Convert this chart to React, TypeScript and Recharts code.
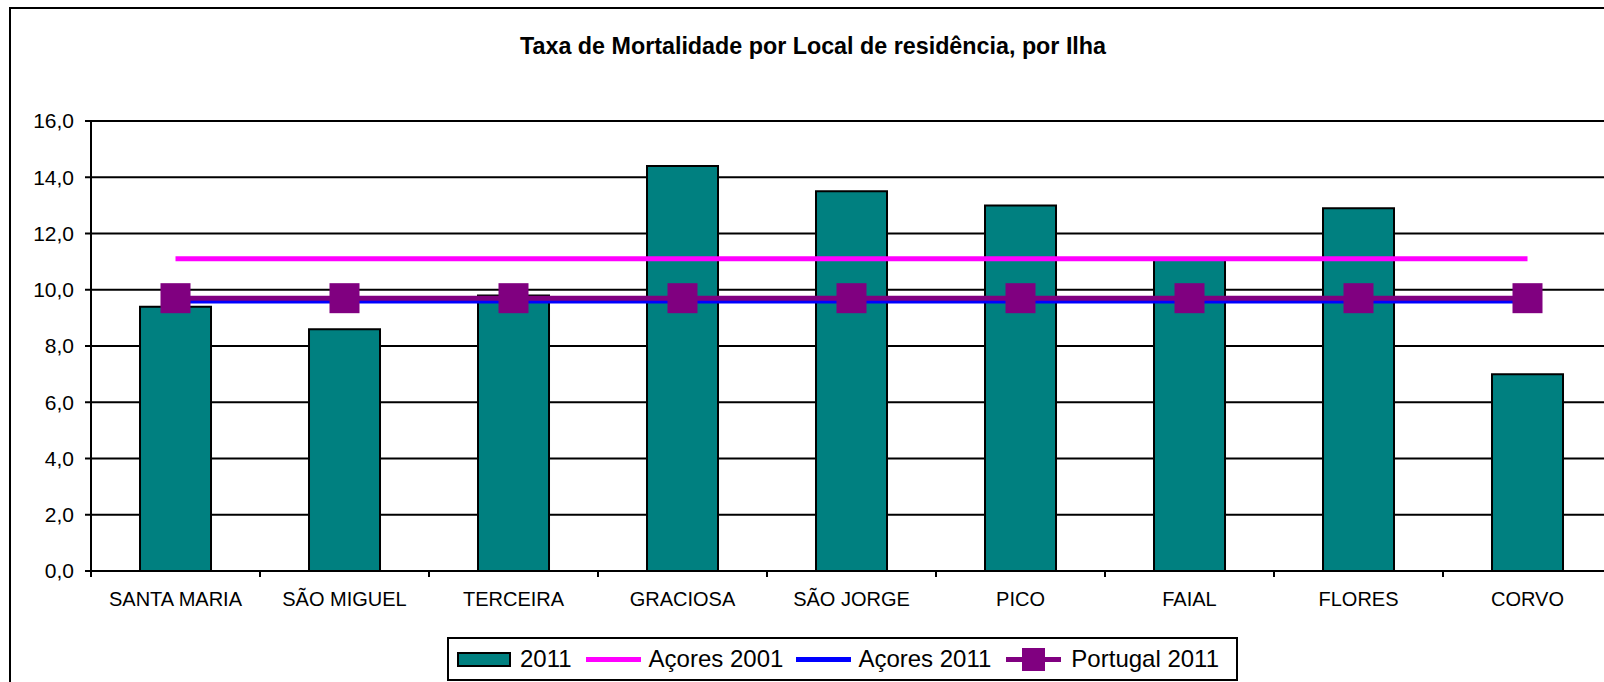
import React from "react";
import {
  ComposedChart,
  Bar,
  Line,
  XAxis,
  YAxis,
  CartesianGrid,
  Legend,
} from "recharts";

const FONT = "'Liberation Sans', Arial, sans-serif";

// islands on the x axis
const islands = [
  "SANTA MARIA",
  "SÃO MIGUEL",
  "TERCEIRA",
  "GRACIOSA",
  "SÃO JORGE",
  "PICO",
  "FAIAL",
  "FLORES",
  "CORVO",
];

// death rate per island, 2011
const rate2011 = [9.4, 8.6, 9.8, 14.4, 13.5, 13.0, 11.1, 12.9, 7.0];

// reference rates (same value on every island)
const acores2001 = [11.1, 11.1, 11.1, 11.1, 11.1, 11.1, 11.1, 11.1, 11.1];
const acores2011 = [9.6, 9.6, 9.6, 9.6, 9.6, 9.6, 9.6, 9.6, 9.6];
const portugal2011 = [9.7, 9.7, 9.7, 9.7, 9.7, 9.7, 9.7, 9.7, 9.7];

const yTicks = [0, 2, 4, 6, 8, 10, 12, 14, 16];

const data = islands.map((name, i) => ({
  name,
  v2011: rate2011[i],
  a2001: acores2001[i],
  a2011: acores2011[i],
  pt2011: portugal2011[i],
}));

const fmt = (v: number) => v.toFixed(1).replace(".", ",");

function IslandTick(props: any) {
  const { x, y, payload, index } = props;
  const half = payload.offset ?? 84.5;
  const axisY = y - 21;
  return (
    <g>
      <line x1={x - half} x2={x - half} y1={axisY} y2={axisY + 6} stroke="#000" strokeWidth={2} />
      {index === islands.length - 1 && (
        <line x1={x + half} x2={x + half} y1={axisY} y2={axisY + 6} stroke="#000" strokeWidth={2} />
      )}
      <text x={x} y={y} dy="0.71em" textAnchor="middle" fontSize={20} fill="#000" fontFamily={FONT}>
        {payload.value}
      </text>
    </g>
  );
}

function SquareDot(props: any) {
  const { cx, cy, index } = props;
  return <rect key={`sq-${index}`} x={cx - 15} y={cy - 15} width={30} height={30} fill="#800080" />;
}

function LegendBox() {
  const text: React.CSSProperties = { fontSize: 24, lineHeight: "24px", color: "#000" };
  const line = (color: string): React.CSSProperties => ({
    width: 55,
    height: 5,
    background: color,
    position: "relative",
  });
  return (
    <div
      style={{
        display: "flex",
        alignItems: "center",
        boxSizing: "border-box",
        height: 44,
        border: "2px solid #000",
        background: "#fff",
        padding: "0 17px 0 8px",
        fontFamily: FONT,
        whiteSpace: "nowrap",
      }}
    >
      <div style={{ width: 54, height: 15, boxSizing: "border-box", border: "2px solid #000", background: "#008080", marginRight: 9 }} />
      <span style={{ ...text, marginRight: 14 }}>2011</span>
      <div style={{ ...line("#ff00ff"), marginRight: 8 }} />
      <span style={{ ...text, marginRight: 13 }}>Açores 2001</span>
      <div style={{ ...line("#0000ff"), marginRight: 7 }} />
      <span style={{ ...text, marginRight: 15 }}>Açores 2011</span>
      <div style={{ ...line("#800080"), marginRight: 10 }}>
        <div style={{ position: "absolute", left: 16, top: -9, width: 23, height: 23, background: "#800080" }} />
      </div>
      <span style={text}>Portugal 2011</span>
    </div>
  );
}

export default function App() {
  return (
    <div
      style={{
        position: "fixed",
        left: 0,
        top: 0,
        width: 1604,
        height: 682,
        overflow: "hidden",
        background: "#fff",
        fontFamily: FONT,
      }}
    >
      <div
        style={{
          position: "absolute",
          left: 9,
          top: 7,
          width: 1609,
          height: 760,
          boxSizing: "border-box",
          border: "2px solid #000",
        }}
      />
      <div
        style={{
          position: "absolute",
          left: 0,
          top: 35,
          width: 1626,
          textAlign: "center",
          fontWeight: "bold",
          fontSize: 23.3,
          lineHeight: "23px",
          color: "#000",
        }}
      >
        Taxa de Mortalidade por Local de residência, por Ilha
      </div>
      <div style={{ position: "absolute", left: 0, top: 0 }}>
        <ComposedChart
          width={1640}
          height={700}
          data={data}
          margin={{ top: 121, right: 28, left: 0, bottom: 89 }}
          barCategoryGap="29%"
        >
          <CartesianGrid vertical={false} stroke="#000" strokeWidth={2} />
          <XAxis
            dataKey="name"
            interval={0}
            height={40}
            axisLine={{ stroke: "#000", strokeWidth: 2 }}
            tickLine={false}
            tickSize={6}
            tickMargin={15}
            tick={<IslandTick />}
          />
          <YAxis
            width={91}
            domain={[0, 16]}
            ticks={yTicks}
            tickFormatter={fmt}
            axisLine={{ stroke: "#000", strokeWidth: 2 }}
            tickLine={{ stroke: "#000", strokeWidth: 2 }}
            tickSize={6}
            tickMargin={11}
            tick={{ fill: "#000", fontSize: 21, fontFamily: FONT }}
          />
          <Legend
            layout="horizontal"
            verticalAlign="middle"
            align="center"
            wrapperStyle={{ left: 447, top: 637, width: "auto", height: "auto" }}
            content={() => <LegendBox />}
          />
          <Bar dataKey="v2011" name="2011" fill="#008080" stroke="#000" strokeWidth={2} isAnimationActive={false} />
          <Line type="linear" dataKey="a2001" name="Açores 2001" stroke="#ff00ff" strokeWidth={5} dot={false} isAnimationActive={false} />
          <Line type="linear" dataKey="a2011" name="Açores 2011" stroke="#0000ff" strokeWidth={5} dot={false} isAnimationActive={false} />
          <Line
            type="linear"
            dataKey="pt2011"
            name="Portugal 2011"
            stroke="#800080"
            strokeWidth={5}
            dot={<SquareDot />}
            activeDot={false}
            isAnimationActive={false}
          />
        </ComposedChart>
      </div>
    </div>
  );
}
